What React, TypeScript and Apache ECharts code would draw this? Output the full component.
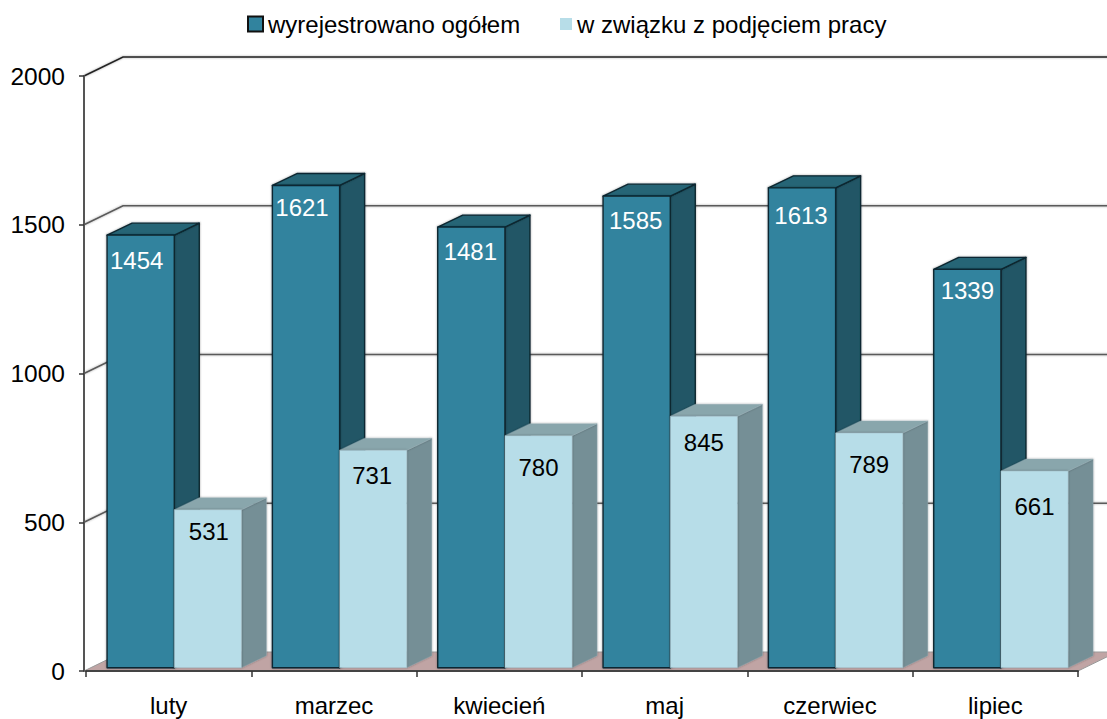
import React, { useEffect, useRef } from "react";
import * as echarts from "echarts";

const categories = ["luty", "marzec", "kwiecień", "maj", "czerwiec", "lipiec"];
const totalValues = [1454, 1621, 1481, 1585, 1613, 1339];
const jobValues = [531, 731, 780, 845, 789, 661];
const wallTicks = [0, 500, 1000, 1500, 2000];
const totalName = "wyrejestrowano ogółem";
const jobName = "w związku z podjęciem pracy";

// hand-placed label offsets relative to each bar's top edge, as in the source chart
const totalLabelDrop = [25, 22, 24, 24, 28, 21];
const jobLabelDrop = [22, 25, 32, 26, 32, 35];
const totalLabelShift = [-4, -4, -1, -1, -1, 0];
const jobLabelShift = [1, -1, 0, 0, 0, 0];

const FONT = '"Liberation Sans", Arial, sans-serif';
const DEPTH_X = 39;
const DEPTH_Y = 19;
const BAR_W = 67.2;
const BAR_DX = 25;
const BAR_DY = 12;
const FRONT_X = 5.6;
const FRONT_Y = -3.3;

function bar3d(
  api: any,
  side: -1 | 1,
  cols: { front: string; top: string; right: string; stroke: string; strokeWidth: number; text: string },
  drops: number[],
  shifts: number[]
) {
  const idx = api.value(0);
  const v = api.value(1);
  const top = api.coord([idx, v]);
  const base = api.coord([idx, 0]);
  const x0 = top[0] + FRONT_X + (side < 0 ? -BAR_W : 0);
  const x1 = x0 + BAR_W;
  const yT = top[1] + FRONT_Y;
  const yB = base[1] + FRONT_Y;
  const lineStyle = {
    stroke: cols.stroke,
    lineWidth: cols.strokeWidth,
    lineJoin: "round",
    shadowBlur: 2,
    shadowColor: "rgba(0,0,0,0.35)",
  };
  return {
    type: "group",
    children: [
      {
        type: "polygon",
        shape: { points: [[x1, yT], [x1 + BAR_DX, yT - BAR_DY], [x1 + BAR_DX, yB - BAR_DY], [x1, yB]] },
        style: { fill: cols.right, ...lineStyle },
      },
      {
        type: "polygon",
        shape: { points: [[x0, yT], [x0 + BAR_DX, yT - BAR_DY], [x1 + BAR_DX, yT - BAR_DY], [x1, yT]] },
        style: { fill: cols.top, ...lineStyle },
      },
      {
        type: "rect",
        shape: { x: x0, y: yT, width: BAR_W, height: yB - yT },
        style: { fill: cols.front, ...lineStyle },
      },
      {
        type: "text",
        style: {
          text: String(v),
          x: (x0 + x1) / 2 + shifts[idx],
          y: yT + drops[idx],
          align: "center",
          verticalAlign: "middle",
          font: `24px ${FONT}`,
          fill: cols.text,
        },
      },
    ],
  };
}

export default function App() {
  const ref = useRef<HTMLDivElement>(null);
  useEffect(() => {
    document.body.style.margin = "0";
    const chart = echarts.init(ref.current!, null, { renderer: "svg" });
    const option: any = {
      animation: false,
      backgroundColor: "#ffffff",
      textStyle: { fontFamily: FONT },
      grid: { left: 86, top: 76, width: 992, height: 595, containLabel: false },
      legend: [
        {
          data: [{ name: totalName, icon: "rect", itemStyle: { borderColor: "#111", borderWidth: 2 } }],
          left: 242,
          top: 7,
          itemWidth: 15,
          itemHeight: 15,
          textStyle: { fontSize: 24, color: "#000", fontFamily: FONT },
          selectedMode: false,
        },
        {
          data: [{ name: jobName, icon: "rect", itemStyle: { borderWidth: 0 } }],
          left: 555,
          top: 7,
          itemWidth: 12,
          itemHeight: 12,
          textStyle: { fontSize: 24, color: "#000", fontFamily: FONT },
          selectedMode: false,
        },
      ],
      xAxis: {
        type: "category",
        data: categories,
        boundaryGap: true,
        axisLine: { show: true, lineStyle: { color: "#444", width: 2 } },
        axisTick: { show: true, length: 6, lineStyle: { color: "#333", width: 1.5 } },
        axisLabel: { fontSize: 24, color: "#000", margin: 22, fontFamily: FONT },
        z: 5,
      },
      yAxis: {
        type: "value",
        min: 0,
        max: 2000,
        interval: 500,
        offset: 2,
        axisLine: { show: true, lineStyle: { color: "#555", width: 2 } },
        axisTick: { show: true, length: 5, lineStyle: { color: "#333", width: 1.5 } },
        axisLabel: { fontSize: 24.5, color: "#000", margin: 19, fontFamily: FONT, formatter: (v: number) => String(v) },
        splitLine: { show: false },
        z: 5,
      },
      series: [
        {
          type: "custom",
          name: "floor",
          silent: true,
          clip: false,
          z: 1,
          data: [[0, 0]],
          encode: { x: 0, y: 1 },
          renderItem: (params: any, api: any) => {
            const cs = params.coordSys;
            const y = api.coord([0, 0])[1];
            const l = cs.x - 2;
            const r = cs.x + cs.width;
            return {
              type: "polygon",
              shape: { points: [[l, y], [l + DEPTH_X, y - DEPTH_Y], [r + DEPTH_X, y - DEPTH_Y], [r, y]] },
              style: { fill: "#C0A4A4", stroke: "#999", lineWidth: 1 },
            };
          },
        },
        {
          type: "custom",
          name: "walls",
          silent: true,
          clip: false,
          z: 2,
          data: wallTicks.slice(1).map((t) => [0, t]),
          encode: { x: 0, y: 1 },
          renderItem: (params: any, api: any) => {
            const cs = params.coordSys;
            const t = api.value(1);
            const y = api.coord([0, t])[1];
            const l = cs.x - 2;
            const r = cs.x + cs.width;
            return {
              type: "polyline",
              shape: { points: [[l, y], [l + DEPTH_X, y - DEPTH_Y], [r + DEPTH_X, y - DEPTH_Y]] },
              style: {
                fill: "none",
                stroke: t === 2000 ? "#222" : "#5a5a5a",
                lineWidth: 1.6,
                shadowBlur: 2,
                shadowColor: "rgba(0,0,0,0.35)",
              },
            };
          },
        },
        {
          type: "custom",
          name: totalName,
          clip: false,
          z: 3,
          itemStyle: { color: "#31839E" },
          data: totalValues.map((v, i) => [i, v]),
          encode: { x: 0, y: 1 },
          renderItem: (_p: any, api: any) =>
            bar3d(
              api,
              -1,
              { front: "#31839E", top: "#256576", right: "#215766", stroke: "#0d2730", strokeWidth: 1.4, text: "#ffffff" },
              totalLabelDrop,
              totalLabelShift
            ),
        },
        {
          type: "custom",
          name: jobName,
          clip: false,
          z: 4,
          itemStyle: { color: "#B7DDE8" },
          data: jobValues.map((v, i) => [i, v]),
          encode: { x: 0, y: 1 },
          renderItem: (_p: any, api: any) =>
            bar3d(
              api,
              1,
              { front: "#B7DDE8", top: "#89A6AC", right: "#758F96", stroke: "rgba(150,175,182,0.6)", strokeWidth: 0.6, text: "#000000" },
              jobLabelDrop,
              jobLabelShift
            ),
        },
      ],
    };
    chart.setOption(option);
    return () => chart.dispose();
  }, []);
  return <div ref={ref} style={{ position: "absolute", left: 0, top: 0, width: 1107, height: 719 }} />;
}
